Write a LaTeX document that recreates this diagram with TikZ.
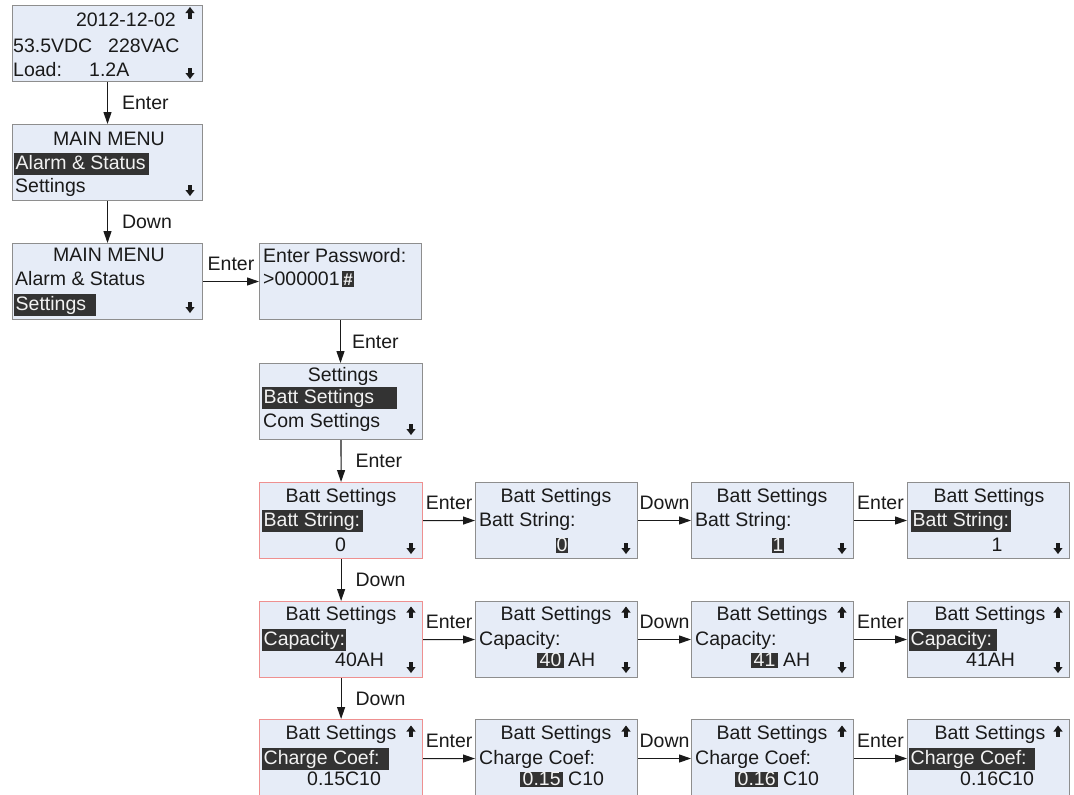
\documentclass[tikz,border=0pt]{standalone}
\usepackage{fontspec}
\setmainfont{Liberation Sans}
\usetikzlibrary{arrows.meta}
\definecolor{lcdfill}{HTML}{E6ECF7}
\definecolor{lcdline}{HTML}{8E8E8E}
\definecolor{lcdred}{HTML}{EE9090}
\definecolor{hl}{HTML}{333333}
\definecolor{hltext}{HTML}{F2F2F2}
\definecolor{ink}{HTML}{1A1A1A}
\newcommand\lcdfont{\fontsize{19.5}{23}\selectfont}
\newcommand\dnarr[2]{\fill[ink] ({#1-1.8},{#2-5.5}) rectangle ({#1+1.8},{#2+0.5}); \fill[ink] ({#1-4.6},{#2}) -- ({#1+4.6},{#2}) -- ({#1},{#2+6}) -- cycle;}
\newcommand\uparr[2]{\fill[ink] ({#1-1.8},{#2+5.5}) rectangle ({#1+1.8},{#2-0.5}); \fill[ink] ({#1-4.6},{#2}) -- ({#1+4.6},{#2}) -- ({#1},{#2-6}) -- cycle;}
\tikzset{
  lcd/.style={draw=lcdline, fill=lcdfill, line width=1pt, anchor=north west, minimum height=76pt, inner sep=0pt},
  lcdsel/.style={lcd, draw=lcdred, line width=1.2pt},
  txt/.style={inner sep=0pt, anchor=base west, text=ink},
  hlbar/.style={fill=hl, text=hltext, inner xsep=1.5pt, inner ysep=0pt, text height=16.5pt, text depth=5.5pt, anchor=base west},
  hlval/.style={fill=hl, text=hltext, inner xsep=2.5pt, inner ysep=0pt, text height=13.5pt, text depth=1.5pt, anchor=base west},
  cursor/.style={fill=hl, text=hltext, inner sep=0pt, minimum width=12pt, text height=14.5pt, text depth=1.5pt, font=\fontsize{17}{17}\selectfont\bfseries},
  conn/.style={draw=ink, line width=1.1pt, -{Triangle[length=12pt,width=8pt]}},
  vlab/.style={midway, anchor=west, inner sep=0pt, xshift=14pt, text=ink},
  hlab/.style={midway, anchor=south, inner sep=0pt, yshift=10pt, text=ink}
}
\begin{document}
\begin{tikzpicture}[x=1pt, y=-1pt, font=\lcdfont]
\useasboundingbox (0,0) rectangle (1074,795);
\fill[white] (0,0) rectangle (1074,795);
% ---- Box A
\node[lcd, minimum width=190pt] (A) at (12,5) {};
\node[txt, anchor=base east] (a1) at (176,27) {2012-12-02};
\uparr{190}{13}
\node[txt] (a2) at (13,52) {53.5VDC};
\node[txt] (a3) at (108,52) {228VAC};
\node[txt] (a4) at (13,76) {Load:};
\node[txt] (a5) at (89,76) {1.2A};
\dnarr{190}{73}
% ---- Box B
\node[lcd, minimum width=190pt] (B) at (12,124) {};
\node[txt, anchor=base] (b1) at (109,145) {MAIN MENU};
\node[hlbar] (b2) at (14,169.5) {\makebox[132pt][l]{Alarm \& Status}};
\node[txt] (b3) at (15,192) {Settings};
\dnarr{190}{190}
% ---- Box C
\node[lcd, minimum width=190pt] (C) at (12,243) {};
\node[txt, anchor=base] (c1) at (109,261) {MAIN MENU};
\node[txt] (c2) at (15,285) {Alarm \& Status};
\node[hlbar] (c3) at (14,310) {\makebox[79pt][l]{Settings}};
\dnarr{190}{307}
% ---- Password
\node[lcd, minimum width=162pt] (P) at (259,243) {};
\node[txt] (p1) at (263,262) {Enter Password:};
\node[txt] (p2) at (263,285) {>000001};
\node[cursor, anchor=base west] (p3) at ([xshift=2pt]p2.base east) {\#};
% ---- Settings
\node[lcd, minimum width=163pt] (S) at (259,363) {};
\node[txt, anchor=base] (s1) at (343,381) {Settings};
\node[hlbar] (s2) at (262,403) {\makebox[132pt][l]{Batt Settings}};
\node[txt] (s3) at (263,427) {Com Settings};
\dnarr{411}{429}
% ---- Row 1
\node[lcdsel, minimum width=163pt] (r1a) at (259,482) {};
\node[lcd, minimum width=162pt] (r1b) at (475,482) {};
\node[lcd, minimum width=162pt] (r1c) at (691,482) {};
\node[lcd, minimum width=162pt] (r1d) at (907,482) {};
\node[txt, anchor=base] (r1at) at (341,502) {Batt Settings};
\node[txt, anchor=base] (r1bt) at (556,502) {Batt Settings};
\node[txt, anchor=base] (r1ct) at (772,502) {Batt Settings};
\node[txt, anchor=base] (r1dt) at (989,502) {Batt Settings};
\node[hlbar] (r1a2) at (262,526) {\makebox[98pt][l]{Batt String:}};
\node[txt] (r1b2) at (479,526) {Batt String:};
\node[txt] (r1c2) at (695,526) {Batt String:};
\node[hlbar] (r1d2) at (911,526) {\makebox[97pt][l]{Batt String:}};
\node[txt, anchor=base] (r1a3) at (340.5,551) {0};
\node[hlval, anchor=base, inner xsep=0.8pt] (r1b3) at (562,551) {0};
\node[hlval, anchor=base, inner xsep=0.8pt] (r1c3) at (778,551) {1};
\node[txt, anchor=base] (r1d3) at (997,551) {1};
\dnarr{411}{548} \dnarr{626}{548} \dnarr{842}{548} \dnarr{1058}{548}
% ---- Row 2
\node[lcdsel, minimum width=163pt] (r2a) at (259,601) {};
\node[lcd, minimum width=162pt] (r2b) at (475,601) {};
\node[lcd, minimum width=162pt] (r2c) at (691,601) {};
\node[lcd, minimum width=162pt] (r2d) at (907,601) {};
\node[txt, anchor=base] (r2at) at (341,620) {Batt Settings};
\node[txt, anchor=base] (r2bt) at (556,620) {Batt Settings};
\node[txt, anchor=base] (r2ct) at (772,620) {Batt Settings};
\node[txt, anchor=base] (r2dt) at (990,620) {Batt Settings};
\uparr{411}{612.5} \uparr{626}{612.5} \uparr{842}{612.5} \uparr{1058}{612.5}
\node[hlbar] (r2a2) at (262,645) {\makebox[81pt][l]{Capacity:}};
\node[txt] (r2b2) at (479,645) {Capacity:};
\node[txt] (r2c2) at (695,645) {Capacity:};
\node[hlbar] (r2d2) at (909,645) {\makebox[85pt][l]{Capacity:}};
\node[txt] (r2a3) at (335,666) {40AH};
\node[hlval] (r2b3) at (537,666) {40};
\node[txt] (r2b4) at (568,666) {AH};
\node[hlval] (r2c3) at (751,666) {41};
\node[txt] (r2c4) at (783,666) {AH};
\node[txt] (r2d3) at (966,666) {41AH};
\dnarr{411}{667} \dnarr{626}{667} \dnarr{842}{667} \dnarr{1058}{667}
% ---- Row 3
\node[lcdsel, minimum width=163pt, minimum height=78pt] (r3a) at (259,719) {};
\node[lcd, minimum width=162pt, minimum height=78pt] (r3b) at (475,719) {};
\node[lcd, minimum width=162pt, minimum height=78pt] (r3c) at (691,719) {};
\node[lcd, minimum width=162pt, minimum height=78pt] (r3d) at (907,719) {};
\node[txt, anchor=base] (r3at) at (341,739) {Batt Settings};
\node[txt, anchor=base] (r3bt) at (556,739) {Batt Settings};
\node[txt, anchor=base] (r3ct) at (772,739) {Batt Settings};
\node[txt, anchor=base] (r3dt) at (990,739) {Batt Settings};
\uparr{411}{731.5} \uparr{626}{731.5} \uparr{842}{731.5} \uparr{1058}{731.5}
\node[hlbar] (r3a2) at (262,764) {\makebox[124pt][l]{Charge Coef:}};
\node[txt] (r3b2) at (479,764) {Charge Coef:};
\node[txt] (r3c2) at (695,764) {Charge Coef:};
\node[hlbar] (r3d2) at (909,764) {\makebox[123pt][l]{Charge Coef:}};
\node[txt] (r3a3) at (307,785) {0.15C10};
\node[hlval] (r3b3) at (520,785) {0.15};
\node[txt] (r3b4) at (568,785) {C10};
\node[hlval] (r3c3) at (735,785) {0.16};
\node[txt] (r3c4) at (783,785) {C10};
\node[txt] (r3d3) at (960,785) {0.16C10};
% ---- Connectors
\draw[conn] (A) -- node[vlab]{Enter} (B);
\draw[conn] (B) -- node[vlab]{Down} (C);
\draw[conn] (C.east) -- node[hlab]{Enter} (C.east -| P.west);
\draw[conn] (P.south) -- node[vlab, xshift=-3pt]{Enter} (P.south |- S.north);
\draw[conn] (S) -- node[vlab]{Enter} (r1a);
\draw[conn] (r1a) -- node[vlab]{Down} (r2a);
\draw[conn] (r2a) -- node[vlab]{Down} (r3a);
\draw[conn] (r1a) -- node[hlab]{Enter} (r1b);
\draw[conn] (r1b) -- node[hlab]{Down} (r1c);
\draw[conn] (r1c) -- node[hlab]{Enter} (r1d);
\draw[conn] (r2a) -- node[hlab]{Enter} (r2b);
\draw[conn] (r2b) -- node[hlab]{Down} (r2c);
\draw[conn] (r2c) -- node[hlab]{Enter} (r2d);
\draw[conn] (r3a) -- node[hlab]{Enter} (r3b);
\draw[conn] (r3b) -- node[hlab]{Down} (r3c);
\draw[conn] (r3c) -- node[hlab]{Enter} (r3d);
\end{tikzpicture}
\end{document}
